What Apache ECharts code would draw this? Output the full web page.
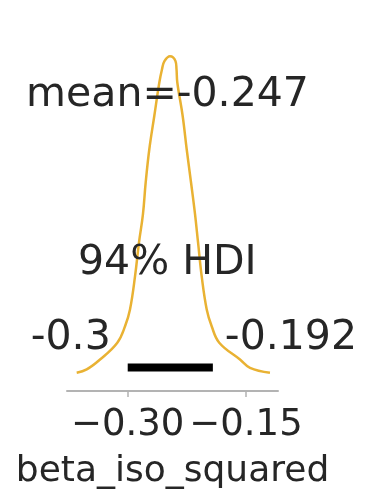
<!DOCTYPE html>
<html>
<head>
<meta charset="utf-8">
<style>
  html, body { margin: 0; padding: 0; background: #ffffff; }
  #chart { width: 365px; height: 489px; }
</style>
<script src="https://cdn.jsdelivr.net/npm/echarts@6/dist/echarts.min.js"></script>
</head>
<body>
<div id="chart"></div>
<script>
// Posterior KDE of beta_iso_squared
const kdeX = [-0.3647, -0.3520, -0.3351, -0.3132, -0.3034, -0.2971, -0.2907, -0.2857, -0.2807,
              -0.2772, -0.2726, -0.2663, -0.2599, -0.2565, -0.2534, -0.2464, -0.2394, -0.2381,
              -0.2371, -0.2303, -0.2252, -0.2197, -0.2146, -0.2108, -0.2062, -0.1998, -0.1935,
              -0.1839, -0.1576, -0.1449, -0.1196];
const kdeDensity = [0.01, 0.16, 0.60, 1.35, 2.08, 2.83, 4.31, 5.81, 7.06,
                    8.48, 9.96, 11.44, 12.93, 13.52, 13.88, 14.1, 13.88, 13.52,
                    12.93, 11.44, 9.96, 8.48, 7.06, 5.81, 4.31, 2.83, 2.08,
                    1.35, 0.60, 0.23, 0.01];

const meanValue = -0.247;
const hdiBounds = [-0.3, -0.192];
const hdiLabel = '94% HDI';
const tickValues = [-0.30, -0.15];
const varName = 'beta_iso_squared';

const FONT = 'DejaVu Sans';
const TEXT = '#262626';
const CURVE = '#E9B233';

// vertical placement (in density units) of the annotations
const MEAN_TEXT_Y = 12.37;
const HDI_TEXT_Y = 4.9;
const BOUND_TEXT_Y = 1.55;
const HDI_BAR_Y = 0.25;

const curve = kdeX.map((x, i) => [x, kdeDensity[i]]);
const fmtTick = v => (v < 0 ? '\u2212' : '') + Math.abs(v).toFixed(2);

const chart = echarts.init(document.getElementById('chart'), null, { renderer: 'canvas' });
chart.setOption({
  animation: false,
  backgroundColor: '#ffffff',
  grid: { left: 67, right: 87, top: 18, bottom: 98, outerBoundsMode: 'none', containLabel: false },
  xAxis: {
    type: 'value',
    min: -0.377,
    max: -0.1094,
    name: varName,
    nameLocation: 'middle',
    nameGap: 63,
    nameMoveOverlap: false,
    nameTextStyle: { fontFamily: FONT, fontSize: 36, color: TEXT },
    axisLine: { show: true, onZero: false, lineStyle: { color: '#b3b3b3', width: 2 } },
    axisTick: { show: true, length: 6, customValues: tickValues, lineStyle: { color: '#b3b3b3', width: 1.5 } },
    axisLabel: {
      customValues: tickValues,
      formatter: fmtTick,
      margin: 16,
      fontFamily: FONT,
      fontSize: 37,
      color: TEXT
    },
    splitLine: { show: false }
  },
  yAxis: {
    type: 'value',
    min: -0.8,
    max: 15.8,
    show: false,
    splitLine: { show: false }
  },
  series: [
    {
      type: 'line',
      data: curve,
      smooth: 0.4,
      symbol: 'none',
      lineStyle: { color: CURVE, width: 2.5 },
      z: 3
    },
    {
      type: 'line',
      data: hdiBounds.map(v => [v, HDI_BAR_Y]),
      symbol: 'none',
      lineStyle: { color: '#000000', width: 8, cap: 'butt' },
      z: 4
    },
    {
      type: 'scatter',
      symbolSize: 0,
      silent: true,
      z: 5,
      itemStyle: { opacity: 1 },
      label: { show: true, fontFamily: FONT, fontSize: 41, color: TEXT, opacity: 1 },
      data: [
        { value: [meanValue, MEAN_TEXT_Y],
          label: { position: 'inside', offset: [-2, 0], formatter: 'mean=' + meanValue } },
        { value: [(hdiBounds[0] + hdiBounds[1]) / 2, HDI_TEXT_Y],
          label: { position: 'inside', offset: [-3, 0], formatter: hdiLabel } },
        { value: [hdiBounds[0], BOUND_TEXT_Y],
          label: { position: 'left', distance: 17, formatter: String(hdiBounds[0]) } },
        { value: [hdiBounds[1], BOUND_TEXT_Y],
          label: { position: 'right', distance: 12, formatter: String(hdiBounds[1]) } }
      ]
    }
  ]
});
</script>
</body>
</html>
